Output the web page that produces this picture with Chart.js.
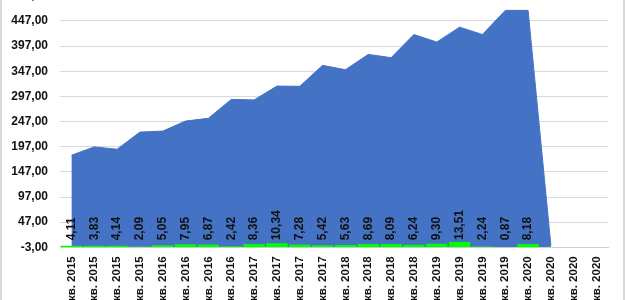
<!DOCTYPE html>
<html>
<head>
<meta charset="utf-8">
<script src="https://cdn.jsdelivr.net/npm/chart.js@4.4.1/dist/chart.umd.min.js"></script>
<style>
  html, body { margin: 0; padding: 0; width: 625px; height: 300px; overflow: hidden; background: #fff; }
  #wrap { position: absolute; left: 0; top: -30px; width: 625px; height: 380px; }
  #frame { position: absolute; left: 0; top: 0; width: 621px; height: 300px; border-left: 2px solid #d9d9d9; border-right: 2px solid #d9d9d9; pointer-events: none; }
</style>
</head>
<body>
<div id="wrap"><canvas id="c" width="625" height="380"></canvas></div>
<div id="frame"></div>
<script>
const categories = [
  'I кв. 2015','II кв. 2015','III кв. 2015','IV кв. 2015',
  'I кв. 2016','II кв. 2016','III кв. 2016','IV кв. 2016',
  'I кв. 2017','II кв. 2017','III кв. 2017','IV кв. 2017',
  'I кв. 2018','II кв. 2018','III кв. 2018','IV кв. 2018',
  'I кв. 2019','II кв. 2019','III кв. 2019','IV кв. 2019',
  'I кв. 2020','II кв. 2020','III кв. 2020','IV кв. 2020'
];
const areaValues = [180, 196.6, 192, 226, 228, 248, 253.5, 291, 290, 317.5, 317, 358.7,
                    350, 380.5, 374, 420, 405, 434.7, 420, 468, 468, 0, null, null];
const barValues = [4.11, 3.83, 4.14, 2.09, 5.05, 7.95, 6.87, 2.42, 8.36, 10.34, 7.28, 5.42,
                   5.63, 8.69, 8.09, 6.24, 9.30, 13.51, 2.24, 0.87, 8.18, null, null, null];
const yTicks = [-3, 47, 97, 147, 197, 247, 297, 347, 397, 447, 497];

const fmt = v => v.toFixed(2).replace('.', ',');

const barLabels = {
  id: 'barLabels',
  afterDatasetsDraw(chart) {
    const meta = chart.getDatasetMeta(1);
    const ctx = chart.ctx;
    const bottom = chart.chartArea.bottom;
    ctx.save();
    ctx.font = 'bold 12px "Liberation Sans", Arial, sans-serif';
    ctx.fillStyle = '#111';
    ctx.textAlign = 'left';
    ctx.textBaseline = 'middle';
    meta.data.forEach((bar, i) => {
      const v = barValues[i];
      if (v == null) return;
      const y = Math.min(bar.y, bottom - 5) - 2;
      ctx.save();
      ctx.translate(bar.x, y);
      ctx.rotate(-Math.PI / 2);
      ctx.fillText(fmt(v), 0, 0);
      ctx.restore();
    });
    ctx.restore();
  }
};

new Chart(document.getElementById('c'), {
  type: 'bar',
  data: {
    labels: categories,
    datasets: [
      {
        type: 'line',
        data: areaValues,
        yAxisID: 'y',
        borderColor: '#4472C4',
        borderWidth: 1,
        backgroundColor: '#4472C4',
        fill: 'start',
        tension: 0,
        pointRadius: 0,
        spanGaps: false,
        order: 2
      },
      {
        type: 'bar',
        data: barValues,
        yAxisID: 'y2',
        backgroundColor: '#00FF00',
        borderWidth: 0,
        categoryPercentage: 1,
        barPercentage: 0.94,
        order: 1
      }
    ]
  },
  options: {
    responsive: false,
    devicePixelRatio: 1,
    animation: false,
    layout: { padding: { top: 25.8, right: 17, left: 0, bottom: 0 } },
    plugins: { legend: { display: false }, tooltip: { enabled: false } },
    scales: {
      x: {
        offset: true,
        grid: { display: false, drawTicks: false },
        border: { display: true, color: '#cfcfcf', width: 1 },
        ticks: {
          autoSkip: false,
          maxRotation: 90,
          minRotation: 90,
          padding: 9,
          color: '#111',
          font: { family: '"Liberation Sans", Arial, sans-serif', size: 11.5, weight: 'bold' }
        },
        afterFit(s) { s.height = 102.7; }
      },
      y: {
        min: -3,
        max: 497,
        afterBuildTicks(s) { s.ticks = yTicks.map(v => ({ value: v })); },
        grid: { color: '#d9d9d9', drawTicks: false },
        border: { display: false },
        ticks: {
          padding: 12,
          color: '#111',
          font: { family: '"Liberation Sans", Arial, sans-serif', size: 12, weight: 'bold' },
          callback: v => fmt(v)
        },
        afterFit(s) { s.width = 60; }
      },
      y2: {
        display: false,
        min: 0,
        max: 640
      }
    }
  },
  plugins: [barLabels]
});
</script>
</body>
</html>
